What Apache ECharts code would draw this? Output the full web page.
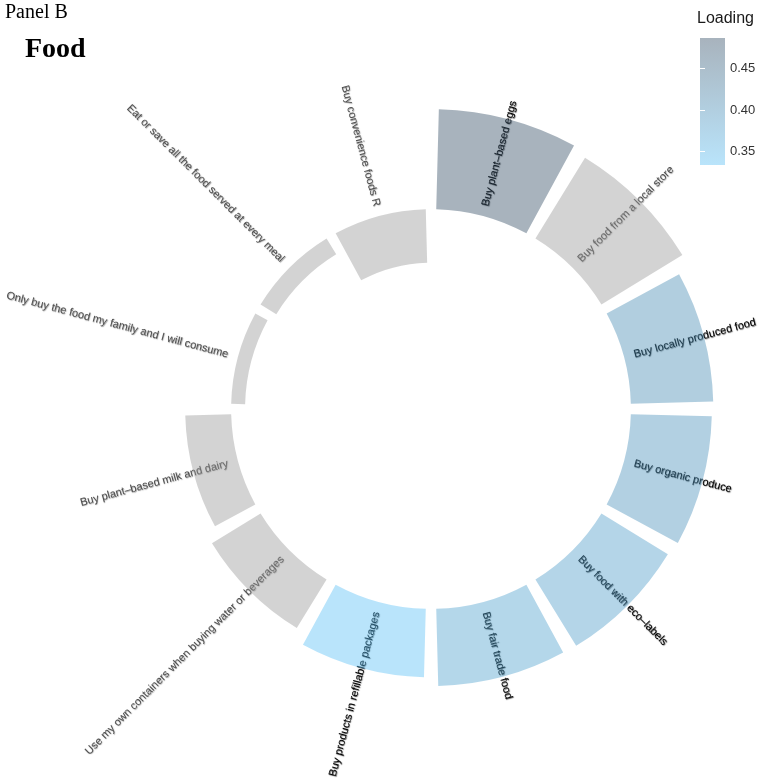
<!DOCTYPE html>
<html>
<head>
<meta charset="utf-8">
<script src="https://cdn.jsdelivr.net/npm/echarts@6/dist/echarts.min.js"></script>
<style>
  html, body { margin: 0; padding: 0; background: #ffffff; }
  #chart { width: 759px; height: 781px; }
</style>
</head>
<body>
<div id="chart"></div>
<script>
// Food behaviours, in order clockwise from 12 o'clock
const categories = [
  'Buy plant\u2013based eggs',
  'Buy food from a local store',
  'Buy locally produced food',
  'Buy organic produce',
  'Buy food with eco\u2013labels',
  'Buy fair trade food',
  'Buy products in refillable packages',
  'Use my own containers when buying water or beverages',
  'Buy plant\u2013based milk and dairy',
  'Only buy the food my family and I will consume',
  'Eat or save all the food served at every meal',
  'Buy convenience foods R'
];
// Factor loadings
const loadings = [0.487, 0.463, 0.402, 0.395, 0.380, 0.376, 0.334, 0.278, 0.224, -0.068, -0.090, -0.261];
// Items that load on this factor get the colour scale, the rest stay grey
const highlighted = [true, false, true, true, true, true, true, false, false, false, false, false];
// Colour-bar tick labels
const legendTicks = [0.35, 0.40, 0.45];

const colorLow = '#b9e4fb';
const colorHigh = '#a8b3bd';
const barGrey = '#d3d3d3';
const barAlpha = 0.42;          // bars are translucent over the labels
const labelOffset = 0.05;       // labels start just outside the zero ring
const FONT = '"Liberation Sans", Arial, Helvetica, sans-serif';

const shaded = loadings.filter((v, i) => highlighted[i]);
const scaleMin = Math.min(...shaded);
const scaleMax = Math.max(...shaded);

function scaleColor(v) {
  const t = (v - scaleMin) / (scaleMax - scaleMin);
  return echarts.color.lerp(Math.max(0, Math.min(1, t)), [colorLow, colorHigh]);
}
// colour that, drawn at opacity a over white, shows as `seen`
function unblend(seen, a) {
  const c = echarts.color.parse(seen);
  const ch = k => Math.round(Math.max(0, Math.min(255, (c[k] - (1 - a) * 255) / a)));
  return 'rgb(' + ch(0) + ',' + ch(1) + ',' + ch(2) + ')';
}

const chart = echarts.init(document.getElementById('chart'), null, { renderer: 'canvas' });

const option = {
  animation: false,
  backgroundColor: '#ffffff',
  title: [
    { text: 'Panel B', left: 5, top: 3, padding: 0,
      textStyle: { fontFamily: '"Liberation Serif", "Times New Roman", serif', fontSize: 20, fontWeight: 'normal', color: '#000' } },
    { text: 'Food', left: 25, top: 36, padding: 0,
      textStyle: { fontFamily: '"Liberation Serif", "Times New Roman", serif', fontSize: 28, fontWeight: 'bold', color: '#000' } },
    { text: 'Loading', left: 697, top: 11, padding: 0,
      textStyle: { fontFamily: FONT, fontSize: 16, fontWeight: 'normal', color: '#1a1a1a' } }
  ],
  polar: {
    center: [431, 409],
    radius: [0, 302.4]
  },
  angleAxis: {
    type: 'category',
    data: categories,
    startAngle: 90,
    clockwise: true,
    boundaryGap: true,
    axisLine: { show: false },
    axisTick: { show: false },
    axisLabel: { show: false },
    splitLine: { show: false }
  },
  radiusAxis: {
    type: 'value',
    min: -0.975,
    max: 0.5,
    axisLine: { show: false },
    axisTick: { show: false },
    axisLabel: { show: false },
    splitLine: { show: false }
  },
  grid: { left: 700, top: 38, width: 25, height: 127 },
  xAxis: { type: 'value', min: 0, max: 1, show: false },
  yAxis: [
    {
      type: 'value', min: scaleMin, max: scaleMax, position: 'right', z: 5,
      axisLine: { show: false }, splitLine: { show: false },
      axisTick: { show: true, inside: true, length: 5, customValues: legendTicks, lineStyle: { color: '#ffffff', width: 1 } },
      axisLabel: { show: true, customValues: legendTicks, margin: 5, color: '#333333', fontSize: 13, fontFamily: FONT,
                   formatter: v => v.toFixed(2) }
    },
    {
      type: 'value', min: scaleMin, max: scaleMax, position: 'left', z: 5,
      axisLine: { show: false }, splitLine: { show: false },
      axisTick: { show: true, inside: true, length: 5, customValues: legendTicks, lineStyle: { color: '#ffffff', width: 1 } },
      axisLabel: { show: false }
    }
  ],
  series: [
    // item labels, drawn under the translucent bars
    {
      type: 'custom',
      coordinateSystem: 'polar',
      z: 1,
      silent: true,
      data: categories.map((c, i) => [labelOffset, i]),
      renderItem: function (params, api) {
        const i = params.dataIndex;
        const p0 = api.coord([0, i]);
        const p1 = api.coord([labelOffset, i]);
        const dx = p1[0] - p0[0], dy = p1[1] - p0[1];
        const a = Math.atan2(dy, dx);
        const outward = dx >= 0;
        const dark = highlighted[i];
        return {
          type: 'text',
          x: p1[0], y: p1[1],
          rotation: outward ? -a : -(a + Math.PI),
          style: {
            text: categories[i],
            font: '11px ' + FONT,
            fill: dark ? '#000000' : '#4e4e4e',
            align: outward ? 'left' : 'right',
            verticalAlign: 'middle',
            textShadowColor: dark ? 'rgba(0,0,0,0.7)' : 'rgba(50,50,50,0.55)',
            textShadowBlur: 1,
            textShadowOffsetX: 0.6,
            textShadowOffsetY: 0.7
          }
        };
      }
    },
    // loading bars
    {
      type: 'bar',
      coordinateSystem: 'polar',
      z: 3,
      silent: true,
      barCategoryGap: '10%',
      data: loadings.map((v, i) => ({
        value: v,
        itemStyle: {
          color: unblend(highlighted[i] ? scaleColor(v) : barGrey, barAlpha),
          opacity: barAlpha
        }
      }))
    },
    // colour bar of the legend
    {
      type: 'custom',
      coordinateSystem: 'cartesian2d',
      xAxisIndex: 0,
      yAxisIndex: 0,
      z: 2,
      silent: true,
      data: [[0, scaleMin, 1, scaleMax]],
      renderItem: function (params, api) {
        const tl = api.coord([0, scaleMax]);
        const br = api.coord([1, scaleMin]);
        return {
          type: 'rect',
          shape: { x: tl[0], y: tl[1], width: br[0] - tl[0], height: br[1] - tl[1] },
          style: {
            fill: {
              type: 'linear', x: 0, y: 0, x2: 0, y2: 1,
              colorStops: [{ offset: 0, color: colorHigh }, { offset: 1, color: colorLow }]
            }
          }
        };
      }
    }
  ]
};

chart.setOption(option);
</script>
</body>
</html>
